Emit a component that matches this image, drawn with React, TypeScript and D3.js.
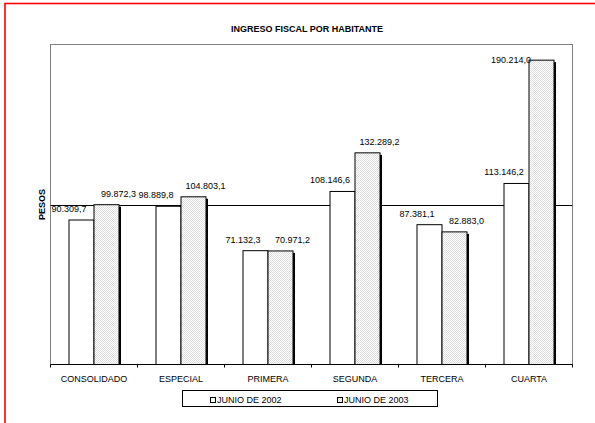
import React from "react";
import * as d3 from "d3";

const categories = ["CONSOLIDADO", "ESPECIAL", "PRIMERA", "SEGUNDA", "TERCERA", "CUARTA"];
const seriesNames = ["JUNIO DE 2002", "JUNIO DE 2003"];
const values2002 = [90309.7, 98889.8, 71132.3, 108146.6, 87381.1, 113146.2];
const values2003 = [99872.3, 104803.1, 70971.2, 132289.2, 82883.0, 190214.0];
const yDomain = [0, 200000];
const gridValues = [100000];
const title = "INGRESO FISCAL POR HABITANTE";
const yTitle = "PESOS";

const W = 595;
const H = 423;
const FONT = "Arial, 'Liberation Sans', sans-serif";

const locale = d3.formatLocale({ decimal: ",", thousands: ".", grouping: [3], currency: ["$", ""] });
const fmt = locale.format(",.1f");

export default function App() {
  const plot = { left: 50.5, top: 44.5, right: 572.5, bottom: 364.5 };
  const x0 = d3.scaleBand<string>().domain(categories).range([plot.left, plot.right]).paddingInner(0).paddingOuter(0);
  const y = d3.scaleLinear().domain(yDomain).range([plot.bottom, plot.top]);
  const barW = 25;
  const series = [values2002, values2003];

  const bars: React.ReactNode[] = [];
  const labels: React.ReactNode[] = [];
  categories.forEach((c, i) => {
    const center = (x0(c) as number) + x0.bandwidth() / 2;
    series.forEach((vals, s) => {
      const v = vals[i];
      const bx = center - barW + s * barW;
      const by = y(v);
      const bh = plot.bottom - by;
      if (s === 1) {
        bars.push(<rect key={`sh${i}`} x={bx + 2} y={by + 2} width={barW} height={bh - 2} fill="#000" />);
      }
      bars.push(
        <rect
          key={`b${i}-${s}`}
          x={bx}
          y={by}
          width={barW}
          height={bh}
          fill={s === 0 ? "#fff" : "url(#dots)"}
          stroke="#000"
          strokeWidth={1}
        />
      );
      const bc = bx + barW / 2;
      const text = fmt(v);
      let lx = bc + (s === 0 ? -12.5 : 12);
      let ly = by - 8;
      let anchor: "middle" | "end" = "middle";
      if (ly - 9 < plot.top) {
        lx = bx + 2;
        ly = by + 3;
        anchor = "end";
      }
      labels.push(
        <text key={`l${i}-${s}`} x={lx} y={ly} fontSize={9} fontFamily={FONT} textAnchor={anchor} fill="#000">
          {text}
        </text>
      );
    });
  });

  const boundaries = d3.range(categories.length + 1).map((k) => plot.left + k * x0.bandwidth());

  const legend = { x: 182.5, y: 390.5, w: 255, h: 16 };

  return (
    <svg width={W} height={H} style={{ position: "absolute", left: 0, top: 0, background: "#fff" }}>
      <defs>
        <pattern id="dots" width={2} height={2} patternUnits="userSpaceOnUse">
          <rect width={2} height={2} fill="#fff" />
          <rect x={0} y={0} width={1} height={1} fill="#dedede" />
          <rect x={1} y={1} width={1} height={1} fill="#dedede" />
        </pattern>
      </defs>
      <rect x={0} y={0} width={W} height={H} fill="#fff" />
      <rect x={5} y={3.5} width={W + 10} height={H + 10} fill="none" stroke="#ff0000" strokeWidth={1.6} />
      <text x={307} y={31.5} fontSize={9} fontWeight="bold" fontFamily={FONT} textAnchor="middle">
        {title}
      </text>
      <rect
        x={plot.left}
        y={plot.top}
        width={plot.right - plot.left}
        height={plot.bottom - plot.top}
        fill="none"
        stroke="#808080"
        strokeWidth={1}
      />
      {gridValues.map((g) => (
        <line key={g} x1={plot.left} x2={plot.right} y1={Math.round(y(g)) + 0.5} y2={Math.round(y(g)) + 0.5} stroke="#000" strokeWidth={1} />
      ))}
      {bars}
      <line x1={plot.left} x2={plot.right} y1={plot.bottom} y2={plot.bottom} stroke="#000" strokeWidth={1} />
      {boundaries.map((bx, k) => (
        <line key={`t${k}`} x1={bx} x2={bx} y1={plot.bottom} y2={plot.bottom + 3} stroke="#000" strokeWidth={1} />
      ))}
      {categories.map((c) => (
        <text
          key={c}
          x={(x0(c) as number) + x0.bandwidth() / 2}
          y={381.5}
          fontSize={9}
          fontFamily={FONT}
          textAnchor="middle"
        >
          {c}
        </text>
      ))}
      {labels}
      <text
        transform={`translate(44.5, ${(plot.top + plot.bottom) / 2}) rotate(-90)`}
        fontSize={9}
        fontWeight="bold"
        fontFamily={FONT}
        textAnchor="middle"
      >
        {yTitle}
      </text>
      <rect x={legend.x} y={legend.y} width={legend.w} height={legend.h} fill="#fff" stroke="#000" strokeWidth={1} />
      {seriesNames.map((n, s) => {
        const sx = s === 0 ? 210.5 : 337.5;
        return (
          <g key={n}>
            <rect x={sx} y={397.5} width={5} height={5} fill={s === 0 ? "#fff" : "url(#dots)"} stroke="#000" strokeWidth={1} />
            <text x={sx + 6.5} y={402.5} fontSize={9} fontFamily={FONT}>
              {n}
            </text>
          </g>
        );
      })}
    </svg>
  );
}
